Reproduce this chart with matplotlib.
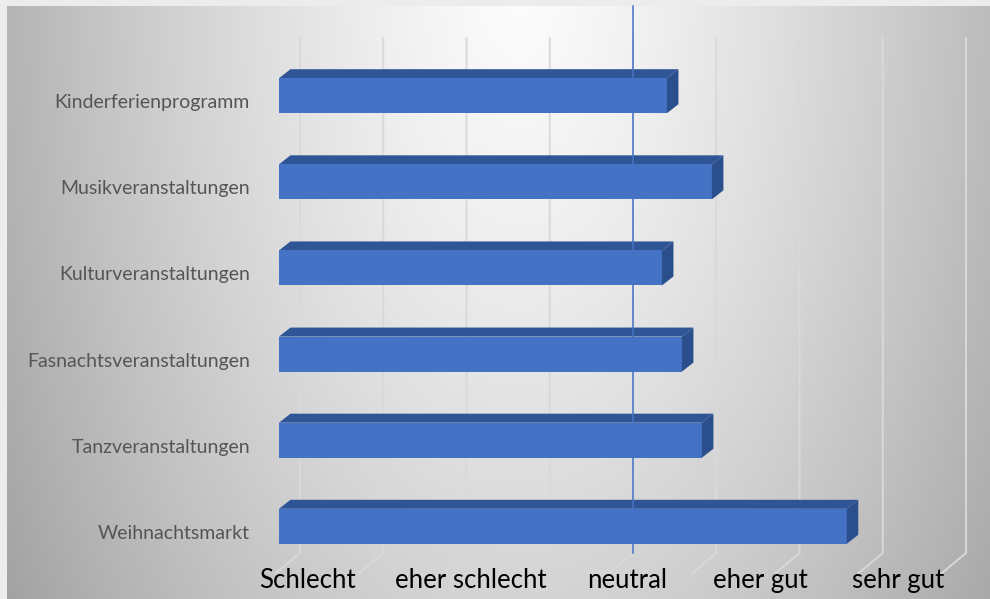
"""3D-style horizontal bar chart: Bewertung der Veranstaltungen (Schlecht .. sehr gut)."""
import numpy as np
import matplotlib
matplotlib.use("Agg")
import matplotlib.pyplot as plt
from matplotlib.patches import Polygon, Rectangle
from matplotlib.transforms import ScaledTranslation, blended_transform_factory

# --- data (bottom -> top) ---
categories = ["Weihnachtsmarkt", "Tanzveranstaltungen", "Fasnachtsveranstaltungen",
              "Kulturveranstaltungen", "Musikveranstaltungen", "Kinderferienprogramm"]
scores = [4.41, 3.54, 3.42, 3.30, 3.60, 3.33]
scale_labels = ["Schlecht", "eher schlecht", "neutral", "eher gut", "sehr gut"]
scale_label_pos = [1.17, 2.15, 3.09, 3.89, 4.72]   # where the text boxes sit on the axis
grid_values = np.arange(1.0, 5.01, 0.5)

FRONT = "#4472c4"
TOP = "#2f5597"
SIDE = "#2b4e8c"
GRID = "#d9d9d9"
FONT = ["Lato", "DejaVu Sans"]

W, H, DPI = 990, 599, 100
fig = plt.figure(figsize=(W / DPI, H / DPI), dpi=DPI)
fig.patch.set_facecolor("#ececec")

# background gradient of the chart area
bg = fig.add_axes([7 / W, 0, (W - 7) / W, (H - 6) / H])
bg.axis("off")
gx, gy = np.meshgrid(np.linspace(7, W, 300), np.linspace(6, H, 200))
t = np.sqrt(((gx - 520) / 560) ** 2 + ((gy + 20) / 1050) ** 2)
shade = np.clip(252 - 80 * t ** 1.3, 160, 252) / 255
bg.imshow(np.dstack([shade] * 3), aspect="auto", extent=(0, 1, 0, 1), interpolation="bilinear")
bg.set_xlim(0, 1)
bg.set_ylim(0, 1)

# main axes = front plane of the bars
ax = fig.add_axes([279 / W, (H - 553) / H, 666 / W, 515 / H])
ax.set_xlim(1, 5)
ax.set_ylim(-0.31, 5.67)
ax.axis("off")
ax.patch.set_alpha(0)

sx = 666 / 4           # px per value unit
sy = 515 / (5.67 + 0.31)  # px per category unit


def dx(px):
    return px / sx


def dy(px):
    return px / sy


y0, y1 = ax.get_ylim()
gdx = dx(21)  # back wall offset

# gridlines on the back wall with the floor bend at the bottom
for v in grid_values:
    xb = v + gdx
    ax.plot([xb, xb, xb - dx(24)], [y1, y0, y0 - dy(20)], color=GRID, lw=1.4,
            zorder=0, clip_on=False, solid_joinstyle="miter")

# bars
hh = dy(17.5)
bdx, bdy = dx(11.5), dy(9)
for i, v in enumerate(scores):
    ax.add_patch(Polygon([(1, i + hh), (v, i + hh), (v + bdx, i + hh + bdy), (1 + bdx, i + hh + bdy)],
                         closed=True, facecolor=TOP, edgecolor="none", zorder=1))
    ax.add_patch(Rectangle((1, i - hh), v - 1, 2 * hh, facecolor=FRONT, edgecolor="none", zorder=3))
    ax.add_patch(Polygon([(v, i + hh), (v + bdx, i + hh + bdy), (v + bdx, i - hh + bdy), (v, i - hh)],
                         closed=True, facecolor=SIDE, edgecolor="none", zorder=3))

# neutral marker line
ax.plot([3 + gdx, 3 + gdx], [y0, y1 + dy(32)], color="#4472c4", lw=1.1, zorder=2, clip_on=False)

# category labels
lab_tr = ax.transData + ScaledTranslation(-29 / DPI, -7 / DPI, fig.dpi_scale_trans)
for i, name in enumerate(categories):
    ax.text(1, i, name, transform=lab_tr, ha="right", va="center",
            fontsize=14, color="#555555", family=FONT)

# scale labels along the bottom
sc_tr = blended_transform_factory(ax.transData, ax.transAxes) + \
    ScaledTranslation(0, -35 / DPI, fig.dpi_scale_trans)
for x, name in zip(scale_label_pos, scale_labels):
    ax.text(x, 0, name, transform=sc_tr, ha="center", va="baseline",
            fontsize=18.5, color="black", family=FONT, clip_on=False)

fig.savefig("out.png", dpi=DPI)
